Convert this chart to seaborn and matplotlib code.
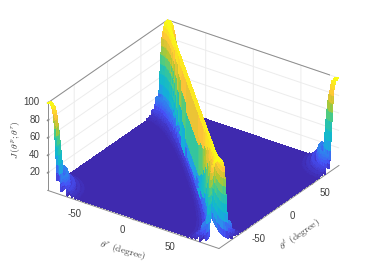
"""
Array response surface over transmit / receive angle, drawn with mplot3d.
"""

import numpy as np
import matplotlib
matplotlib.use("Agg")
import matplotlib.pyplot as plt
from matplotlib.ticker import NullFormatter
from mpl_toolkits.mplot3d import proj3d
import seaborn as sns

# grid of angles in degrees
theta_x = np.arange(-90, 90.5, 0.5)
theta_y = np.arange(-90, 90.5, 0.5)

# gain read from the cross-section of the ridge, one entry per GAP_STEP of sine gap
GAP_STEP = 0.0025
gain_by_gap = [
    100, 99.0, 95.8, 90.8, 84.0, 75.7, 66.2, 55.8, 45.0, 34.1,
    23.4, 13.3, 4.2, 3.8, 10.5, 15.6, 19.2, 21.2, 21.7, 20.9,
    18.9, 16.0, 12.4, 8.3, 4.1, 0.5, 3.0, 5.5, 7.5, 9.0,
    9.8, 10.0, 9.5, 8.5, 7.0, 5.2, 3.2, 1.3, 1.0, 2.2,
    3.3, 4.2, 4.8, 5.0, 5.0, 4.6, 4.0, 3.2, 2.2, 1.2,
    0.5, 1.0, 1.8, 2.4, 2.8, 3.0, 3.0, 2.9, 2.6, 2.2,
    1.8, 1.5, 1.0, 1.0, 1.2, 1.5,
]

x_ticks = [-50, 0, 50]
y_ticks = [-50, 0, 50]
z_ticks = [20, 40, 60, 80, 100]

parula_colors = ["#3E26A8", "#4650F6", "#2797EB", "#0FB6D3", "#1FBFB8",
                 "#48CB86", "#B2C72F", "#FEC338", "#F9FB15"]

sns.set_theme(style="white")
plt.rcParams["font.family"] = ["Liberation Sans", "DejaVu Sans"]
plt.rcParams["mathtext.fontset"] = "cm"

parula = sns.blend_palette(parula_colors, as_cmap=True)

# surface values come from the table, looked up by the gap between the sines
gx, gy = np.meshgrid(theta_x, theta_y)
gap = np.abs(np.sin(np.radians(gx)) + np.sin(np.radians(gy)))
gap = np.minimum(gap, 2 - gap)
idx = np.clip(np.rint(gap / GAP_STEP).astype(int), 0, len(gain_by_gap) - 1)
gain = np.array(gain_by_gap)[idx]

fig = plt.figure(figsize=(3.74, 2.80), dpi=100)
ax = fig.add_axes([2.5 / 374, 2 / 280, 1, 1], projection="3d", computed_zorder=False)
ax.set_proj_type("ortho")
ax.view_init(elev=29, azim=-55)
ax.set_box_aspect((1, 1, 0.477), zoom=1.083)
ax.patch.set_alpha(0)

surf = ax.plot_surface(gx, gy, gain, cmap=parula, vmin=0, vmax=100,
                       rstride=1, cstride=1, linewidth=0, antialiased=False,
                       shade=False, zorder=3)
surf.set_clip_on(False)

xmin, xmax = theta_x[0], theta_x[-1]
ymin, ymax = theta_y[0], theta_y[-1]
ax.set_xlim(xmin, xmax)
ax.set_ylim(ymin, ymax)
ax.set_zlim(0, 100)
ax.set_xticks(x_ticks)
ax.set_yticks(y_ticks)
ax.set_zticks(z_ticks)
ax.zaxis.set_ticks_position("lower")

for axis in (ax.xaxis, ax.yaxis, ax.zaxis):
    axis.set_pane_color((1, 1, 1, 1))
    axis.pane.set_edgecolor("white")
    axis.line.set_color("#8c8c8c")
    axis.line.set_linewidth(0.7)
    axis._axinfo["grid"].update(color="#ececec", linewidth=0.7)
    axis._axinfo["tick"].update(inward_factor=0.0, outward_factor=0.12)
    axis.set_tick_params(color="#8c8c8c")
    axis.set_major_formatter(NullFormatter())


def tick_text(x, y, z, label, ha):
    # project to the 2D plane so the label is an ordinary text
    px, py, _ = proj3d.proj_transform(x, y, z, ax.get_proj())
    ax.text2D(px, py, label, transform=ax.transData, fontsize=7, color="#404040",
              ha=ha, va="center", clip_on=False)


# tick labels placed by hand so they sit where the reference has them
for t in x_ticks:
    tick_text(t, ymin - 16.7, -3.8, str(t), "center")
for t in y_ticks:
    tick_text(xmax + 13.7, t, -5.3, str(t), "center")
for t in z_ticks:
    tick_text(xmin - 8, ymin, t - 2, str(t), "right")

# box edges at the top and the two outer verticals
edge = dict(color="#8c8c8c", linewidth=0.7, zorder=1)
ax.plot([xmin, xmin, xmax], [ymin, ymax, ymax], [100, 100, 100], **edge)
ax.plot([xmin, xmin], [ymin, ymin], [0, 100], **edge)
ax.plot([xmax, xmax], [ymax, ymax], [0, 100], **edge)

fig.text(123 / 374, 1 - 250 / 280, r"$\theta^{r}\ \mathrm{(degree)}$", rotation=-16, fontsize=7,
         color="#404040", ha="center", va="center")
fig.text(300 / 374, 1 - 235 / 280, r"$\theta^{t}\ \mathrm{(degree)}$", rotation=35, fontsize=7,
         color="#404040", ha="center", va="center")
fig.text(16 / 374, 1 - 140 / 280, r"$J\,(\theta^{p};\theta^{r})$", rotation=90, fontsize=7,
         color="#404040", ha="center", va="center")

fig.savefig("out.png", dpi=100)
